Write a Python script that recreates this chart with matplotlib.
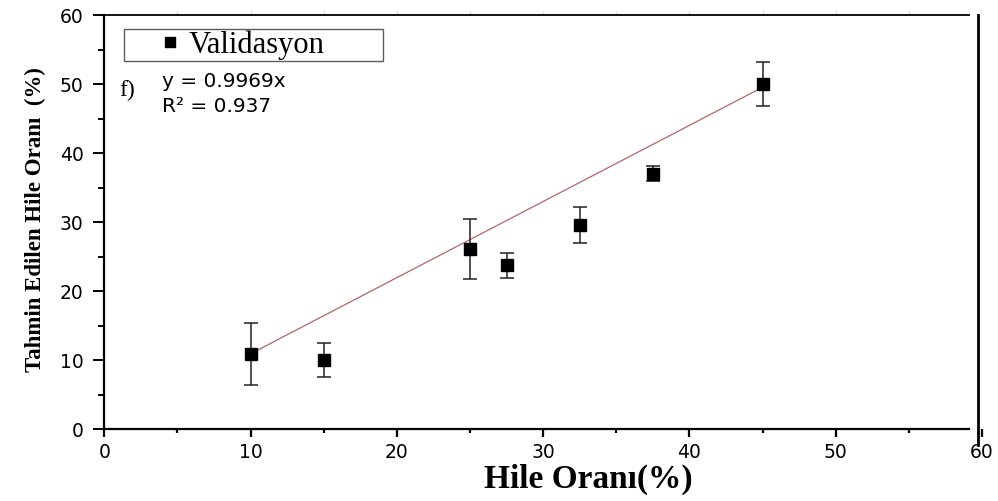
import matplotlib
matplotlib.use("Agg")
import matplotlib.pyplot as plt
from matplotlib.lines import Line2D
from matplotlib.ticker import MultipleLocator

# Validation data: true fraud rate vs. predicted fraud rate (%)
hile_orani = [10, 15, 25, 27.5, 32.5, 37.5, 45]
tahmin = [10.9, 10.0, 26.1, 23.7, 29.6, 37.0, 50.0]
hata = [4.5, 2.5, 4.3, 1.8, 2.6, 1.1, 3.2]

# Trend line as drawn
trend_x = [10, 44.7]
trend_y = [10.9, 49.2]

x_ticks = [0, 10, 20, 30, 40, 50, 60]
y_ticks = [0, 10, 20, 30, 40, 50, 60]

equation = "y = 0.9969x"
r_squared = "R\u00b2 = 0.937"
panel = "f)"
legend_label = "Validasyon"
x_label = "Hile Oran\u0131(%)"
y_label = "Tahmin Edilen Hile Oran\u0131  (%)"

serif = "Liberation Serif"
sans = "DejaVu Sans"

fig = plt.figure(figsize=(9.98, 5.01), dpi=100)
ax = fig.add_axes([0.1045, 0.1437, 0.8795, 0.8263])

ax.plot(trend_x, trend_y, color="#b06868", lw=0.9, zorder=2)
ax.errorbar(hile_orani, tahmin, yerr=hata, fmt="s", color="black",
            ecolor="#222222", elinewidth=1.1, capsize=5, capthick=1.1,
            markersize=9, zorder=3)

ax.set_xlim(0, 60)
ax.set_ylim(0, 60)
ax.set_xticks(x_ticks)
ax.set_yticks(y_ticks)
ax.xaxis.set_minor_locator(MultipleLocator(5))
ax.yaxis.set_minor_locator(MultipleLocator(5))

ax.tick_params(axis="x", which="major", direction="out", length=6, width=1.6,
               pad=4, labelsize=13.5, top=False)
ax.tick_params(axis="x", which="minor", direction="out", length=3, width=1.6,
               top=False)
ax.tick_params(axis="y", which="major", direction="out", length=8, width=1.4,
               pad=7, labelsize=13.5, right=False)
ax.tick_params(axis="y", which="minor", direction="out", length=4.5, width=1.4,
               right=False)
for lbl in ax.get_xticklabels() + ax.get_yticklabels():
    lbl.set_fontfamily(sans)

# faint ticks along the top edge
sec = ax.secondary_xaxis("top")
sec.set_xticks([5 * i for i in range(1, 12)])
sec.tick_params(direction="out", length=3, width=1, color="#d8d8d8",
                labeltop=False)
sec.spines["top"].set_visible(False)

for side in ("left", "bottom"):
    ax.spines[side].set_linewidth(1.6)
ax.spines["top"].set_linewidth(1.3)
ax.spines["top"].set_bounds(0, 59.1)
ax.spines["bottom"].set_bounds(0, 59.1)
ax.spines["right"].set_linewidth(2.0)
ax.spines["right"].set_position(("data", 59.75))
ax.spines["right"].set_bounds(-2.3, 60)

ax.set_xlabel(x_label, fontfamily=serif, fontweight="bold", fontsize=24)
ax.xaxis.set_label_coords(0.551, -0.085)
ax.set_ylabel(y_label, fontfamily=serif, fontweight="bold", fontsize=16.5)
ax.yaxis.set_label_coords(-0.066, 0.505)

ax.text(1.0, 49.0, panel, fontfamily=serif, fontsize=17, ha="left",
        va="center")
ax.text(3.95, 50.4, equation, fontfamily=sans, fontsize=14.5, ha="left",
        va="center")
ax.text(3.95, 46.8, r_squared, fontfamily=sans, fontsize=14.5, ha="left",
        va="center")

handle = Line2D([], [], marker="s", linestyle="none", color="black",
                markersize=7)
leg = ax.legend([handle], [legend_label], loc="upper left",
                bbox_to_anchor=(0.0225, 0.967, 0.295, 0.0), mode="expand",
                borderaxespad=0, borderpad=0.05, handlelength=2.9,
                handletextpad=-0.85, fancybox=False,
                prop={"family": serif, "size": 22})
leg.get_frame().set_edgecolor("#333333")
leg.get_frame().set_linewidth(1.0)

fig.savefig("out.png", dpi=100)
